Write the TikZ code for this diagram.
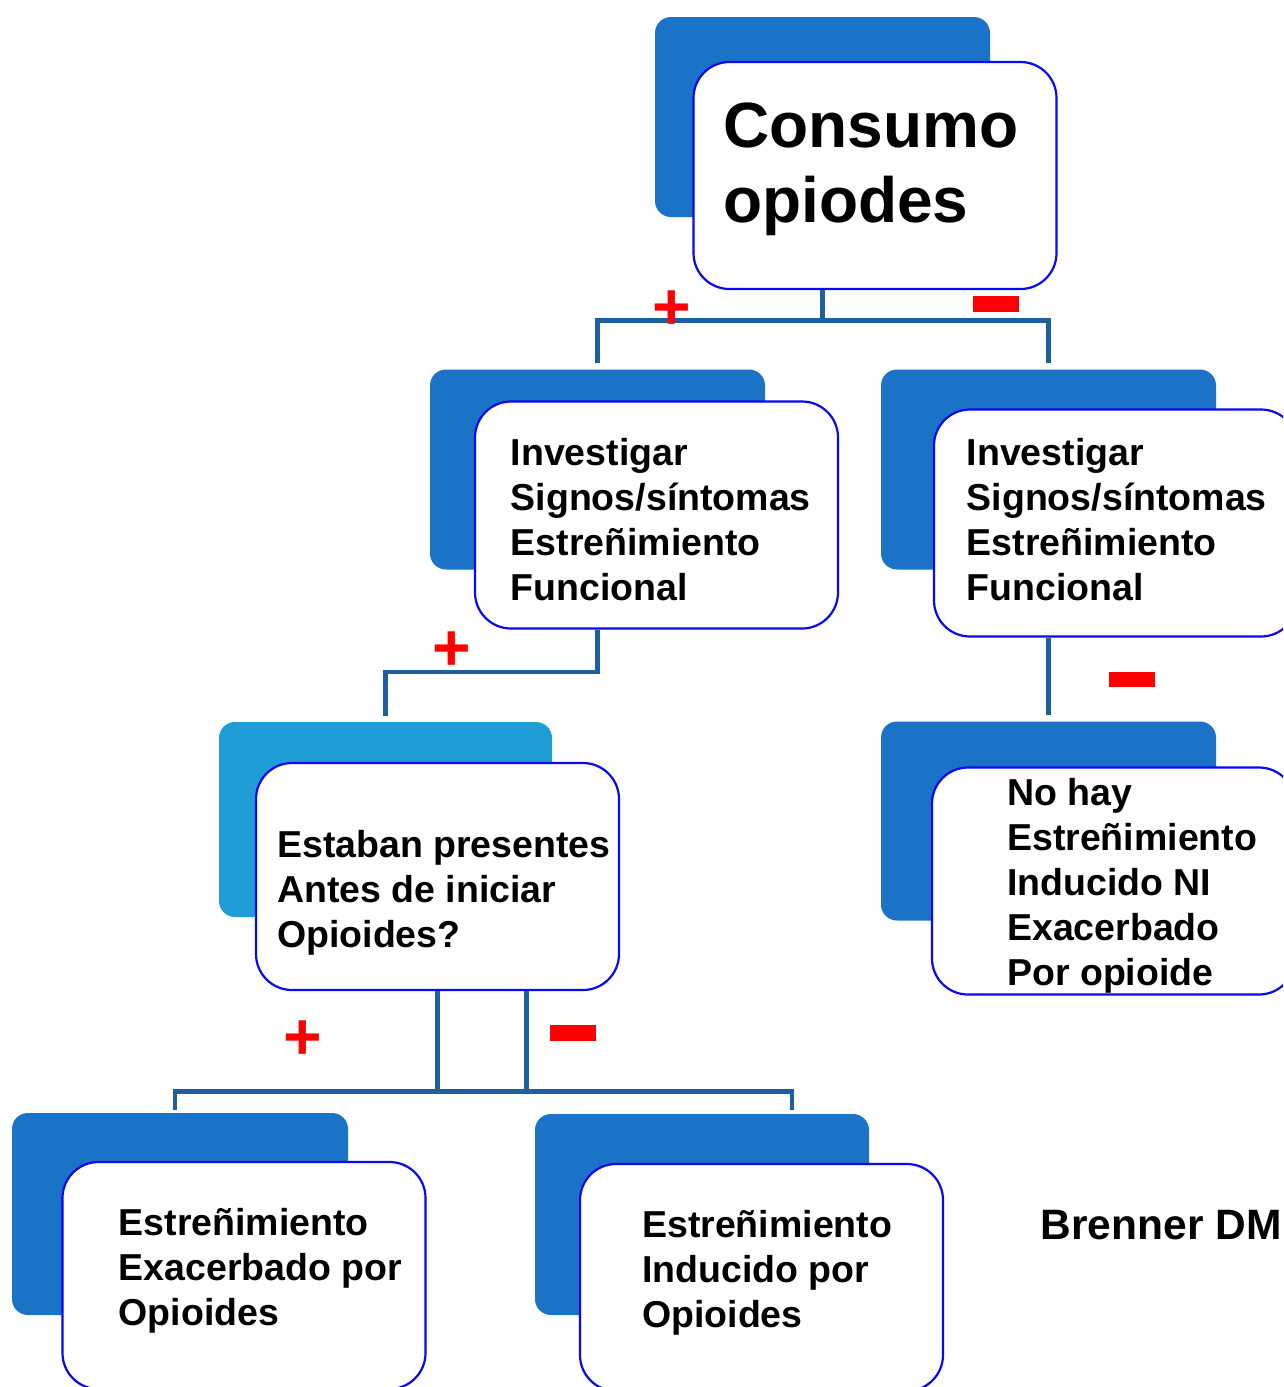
\documentclass[tikz,border=0pt]{standalone}
\usepackage{fontspec}
\setmainfont{Liberation Sans}
\usetikzlibrary{calc}
\definecolor{backblue}{RGB}{27,115,200}
\definecolor{backcyan}{RGB}{30,157,215}
\definecolor{boxblue}{RGB}{10,10,240}
\definecolor{linkblue}{RGB}{30,95,160}
\newcommand{\mlines}[1]{\begin{tabular}[t]{@{}l@{}}#1\end{tabular}}
\begin{document}
\begin{tikzpicture}[x=1pt,y=-1pt,
 backbox/.style={fill=backblue, rounded corners=16pt, inner sep=0pt, minimum width=335pt, minimum height=200pt},
 frontbox/.style={draw=boxblue, line width=2.2pt, fill=white, rounded corners=36pt, inner sep=0pt, minimum width=363pt, minimum height=227pt},
 txt/.style={anchor=base west, inner sep=0pt, font=\bfseries\fontsize{37.5}{45}\selectfont},
 conn/.style={draw=linkblue, line width=4.2pt},
 plussign/.style={text=red, inner sep=0pt, font=\bfseries\fontsize{66}{66}\selectfont},
 minussign/.style={fill=red, inner sep=0pt, minimum width=46pt, minimum height=15.5pt}]
\useasboundingbox (0,0) rectangle (1283,1387);
\clip (0,0) rectangle (1283,1387);
\fill[white] (0,0) rectangle (1283,1387);

\node[backbox] (cb) at (822.5,117) {};
\node[frontbox] (c) at (875,175.5) {};
\node[backbox] (lib) at (597.5,469.5) {};
\node[frontbox] (li) at (656.5,515) {};
\node[backbox] (rib) at (1048.5,469.5) {};
\node[frontbox] (ri) at (1115.5,523) {};
\node[backbox, fill=backcyan, minimum width=333pt, minimum height=195pt] (esb) at (385.5,819.5) {};
\node[frontbox] (es) at (437.5,876.5) {};
\node[backbox, minimum height=199pt] (nhb) at (1048.5,821) {};
\node[frontbox] (nh) at (1113.5,881) {};
\node[backbox, minimum width=336pt, minimum height=202pt] (blb) at (180,1214) {};
\node[frontbox] (bl) at (244,1275.5) {};
\node[backbox, minimum width=334pt, minimum height=201pt] (brb) at (702,1214.5) {};
\node[frontbox] (br) at (761.5,1277.5) {};

\node[txt, font=\bfseries\fontsize{64}{75}\selectfont] (tc) at (723,147) {\mlines{Consumo\\opiodes}};
\node[txt] (tli) at (510.5,465) {\mlines{Investigar\\Signos/síntomas\\Estreñimiento\\Funcional}};
\node[txt] (tri) at (966.5,465) {\mlines{Investigar\\Signos/síntomas\\Estreñimiento\\Funcional}};
\node[txt] (tnh) at (1007,805) {\mlines{No hay\\Estreñimiento\\Inducido NI\\Exacerbado\\Por opioide}};
\node[txt] (tes) at (277,857) {\mlines{Estaban presentes\\Antes de iniciar\\Opioides?}};
\node[txt] (tbl) at (118.5,1235) {\mlines{Estreñimiento\\Exacerbado por\\Opioides}};
\node[txt] (tbr) at (642,1237) {\mlines{Estreñimiento\\Inducido por\\Opioides}};
\node[txt, font=\bfseries\fontsize{42.5}{45}\selectfont] (cite) at (1040.5,1239) {Brenner DM};

\coordinate (bus1) at (0,320.5);
\coordinate (bus2) at (0,672);
\coordinate (bus3) at (0,1091.5);
\coordinate (bltop) at ($(blb.north)+(-5,-3)$);
\coordinate (brtop) at ($(brb.north)+(90,-4)$);
\coordinate (es2) at ($(es.south)+(89,0)$);
\draw[conn] (cb |- c.south) -- (cb |- bus1);
\draw[conn] ($(lib.north)+(0,-6)$) -- (lib |- bus1) -- (rib |- bus1) -- ($(rib.north)+(0,-6)$);
\draw[conn] (lib |- li.south) -- (lib |- bus2) -- (esb |- bus2) -- ($(esb.north)+(0,-6)$);
\draw[conn] (rib |- ri.south) -- ($(nhb.north)+(0,-6)$);
\draw[conn] (es.south) -- (es.south |- bus3) -| (brtop);
\draw[conn] (es2) -- (es2 |- bus3) -| (bltop);

\node[plussign] (p1) at (672,310) {+};
\node[plussign] (p2) at (451.5,651.5) {+};
\node[plussign] (p3) at (303,1040) {+};
\node[minussign] (m1) at (995.5,304) {};
\node[minussign] (m2) at (1132,679.5) {};
\node[minussign] (m3) at (573,1033) {};
\end{tikzpicture}
\end{document}
